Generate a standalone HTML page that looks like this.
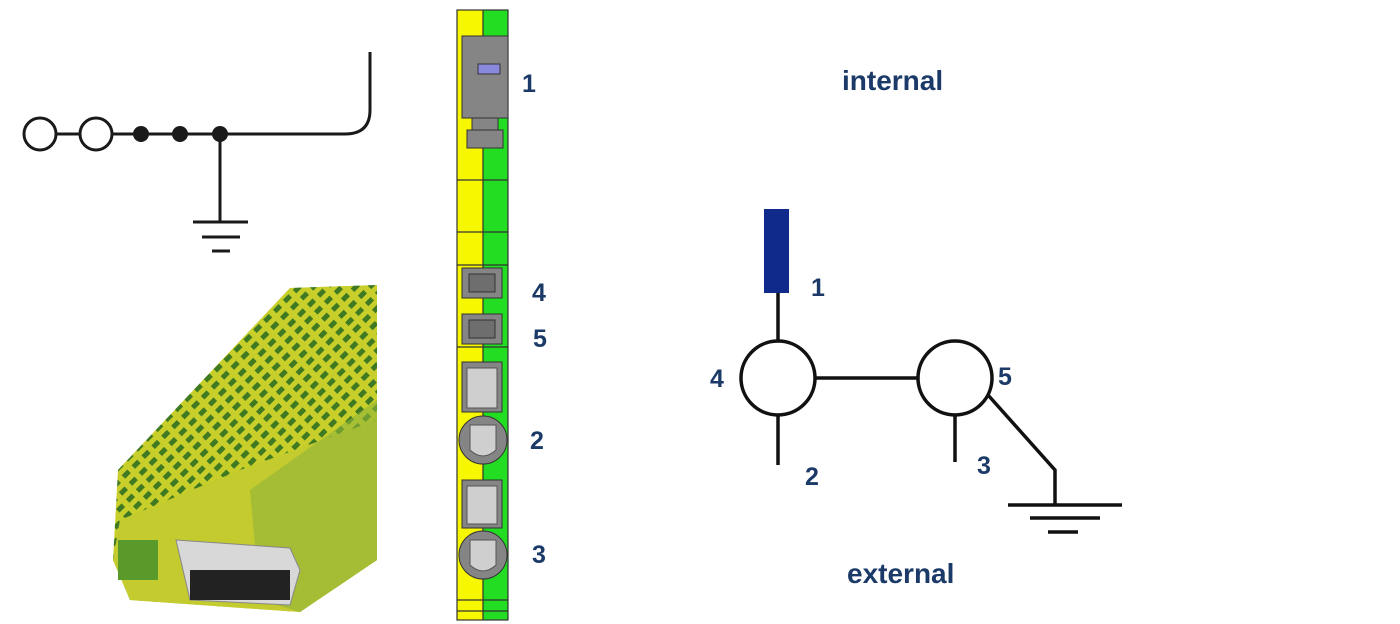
<!DOCTYPE html>
<html><head><meta charset="utf-8"><style>
html,body{margin:0;padding:0;background:#fff;width:1400px;height:624px;overflow:hidden}
text{font-family:"Liberation Sans",sans-serif;font-weight:bold;fill:#1b3a68}
</style></head><body>
<svg width="1400" height="624" viewBox="0 0 1400 624" xmlns="http://www.w3.org/2000/svg">
<defs>
<pattern id="slots" width="14" height="10" patternUnits="userSpaceOnUse" patternTransform="rotate(-45)">
<rect width="14" height="10" fill="#c9cf2a"/>
<rect x="2" y="2" width="8" height="5" fill="#3f7a22"/>
</pattern>
</defs>
<g stroke="#1a1a1a" stroke-width="3" fill="none">
<circle cx="40" cy="134" r="16"/>
<circle cx="96" cy="134" r="16"/>
<line x1="56" y1="134" x2="80" y2="134"/>
<path d="M112 134 H345 Q370 134 370 110 V52"/>
<line x1="220" y1="134" x2="220" y2="222"/>
<line x1="193" y1="222" x2="248" y2="222"/>
<line x1="202" y1="237" x2="240" y2="237"/>
<line x1="212" y1="251" x2="230" y2="251"/>
</g>
<g fill="#1a1a1a"><circle cx="141" cy="134" r="8"/><circle cx="180" cy="134" r="8"/><circle cx="220" cy="134" r="8"/></g>
<polygon points="118,470 290,288 377,285 377,560 300,612 130,600 113,560" fill="url(#slots)"/>
<polygon points="118,470 290,288 377,285 377,330 180,520 118,520" fill="url(#slots)" opacity="0.6"/>
<polygon points="120,520 240,470 377,420 377,560 300,612 130,600 113,560" fill="#c3cb2e"/>
<polygon points="250,490 377,400 377,560 300,612 260,600" fill="#8fb43a" opacity="0.6"/>
<polygon points="176,540 290,548 300,570 290,605 190,600" fill="#d8d8d8" stroke="#888"/>
<rect x="190" y="570" width="100" height="30" fill="#222"/>
<rect x="118" y="540" width="40" height="40" fill="#5a9a2a"/>
<rect x="457" y="10" width="26" height="610" fill="#f7f700"/>
<rect x="483" y="10" width="25" height="610" fill="#22dd22"/>
<g stroke="#333" stroke-width="1.2" fill="none">
<rect x="457" y="10" width="51" height="610"/>
<line x1="483" y1="10" x2="483" y2="620"/>
<line x1="457" y1="180" x2="508" y2="180"/>
<line x1="457" y1="232" x2="508" y2="232"/>
<line x1="457" y1="265" x2="508" y2="265"/>
<line x1="457" y1="347" x2="508" y2="347"/>
<line x1="457" y1="600" x2="508" y2="600"/>
<line x1="457" y1="611" x2="508" y2="611"/>
</g>
<g fill="#858585" stroke="#333" stroke-width="1">
<rect x="462" y="36" width="46" height="82"/>
<rect x="472" y="118" width="26" height="12"/>
<rect x="467" y="130" width="36" height="18"/>
<rect x="462" y="268" width="40" height="30"/>
<rect x="462" y="314" width="40" height="30"/>
<rect x="462" y="362" width="40" height="50"/>
<rect x="462" y="480" width="40" height="48"/>
<circle cx="483" cy="440" r="24"/>
<circle cx="483" cy="555" r="24"/>
</g>
<rect x="478" y="64" width="22" height="10" fill="#8888dd" stroke="#333"/>
<g fill="#6e6e6e" stroke="#333"><rect x="469" y="274" width="26" height="18"/><rect x="469" y="320" width="26" height="18"/></g>
<g fill="#cfcfcf" stroke="#555">
<rect x="467" y="368" width="30" height="40"/><rect x="467" y="486" width="30" height="38"/>
<path d="M470 425 H496 V450 Q483 462 470 450 Z"/><path d="M470 540 H496 V565 Q483 577 470 565 Z"/>
</g>
<g font-size="25">
<text x="522" y="92">1</text><text x="532" y="301">4</text><text x="533" y="347">5</text>
<text x="530" y="449">2</text><text x="532" y="563">3</text>
</g>
<text x="842" y="90" font-size="28">internal</text>
<text x="847" y="583" font-size="28">external</text>
<rect x="764" y="209" width="25" height="84" fill="#0f2a8a"/>
<g stroke="#111" stroke-width="3.5" fill="none">
<line x1="778" y1="293" x2="778" y2="341"/>
<circle cx="778" cy="378" r="37"/>
<circle cx="955" cy="378" r="37"/>
<line x1="815" y1="378" x2="918" y2="378"/>
<line x1="778" y1="415" x2="778" y2="465"/>
<line x1="955" y1="415" x2="955" y2="462"/>
<polyline points="988,395 1055,470 1055,505"/>
<line x1="1008" y1="505" x2="1122" y2="505"/>
<line x1="1030" y1="518" x2="1100" y2="518"/>
<line x1="1048" y1="532" x2="1078" y2="532"/>
</g>
<g font-size="25">
<text x="811" y="296">1</text><text x="710" y="387">4</text><text x="998" y="385">5</text>
<text x="805" y="485">2</text><text x="977" y="474">3</text>
</g>
</svg>
</body></html>
